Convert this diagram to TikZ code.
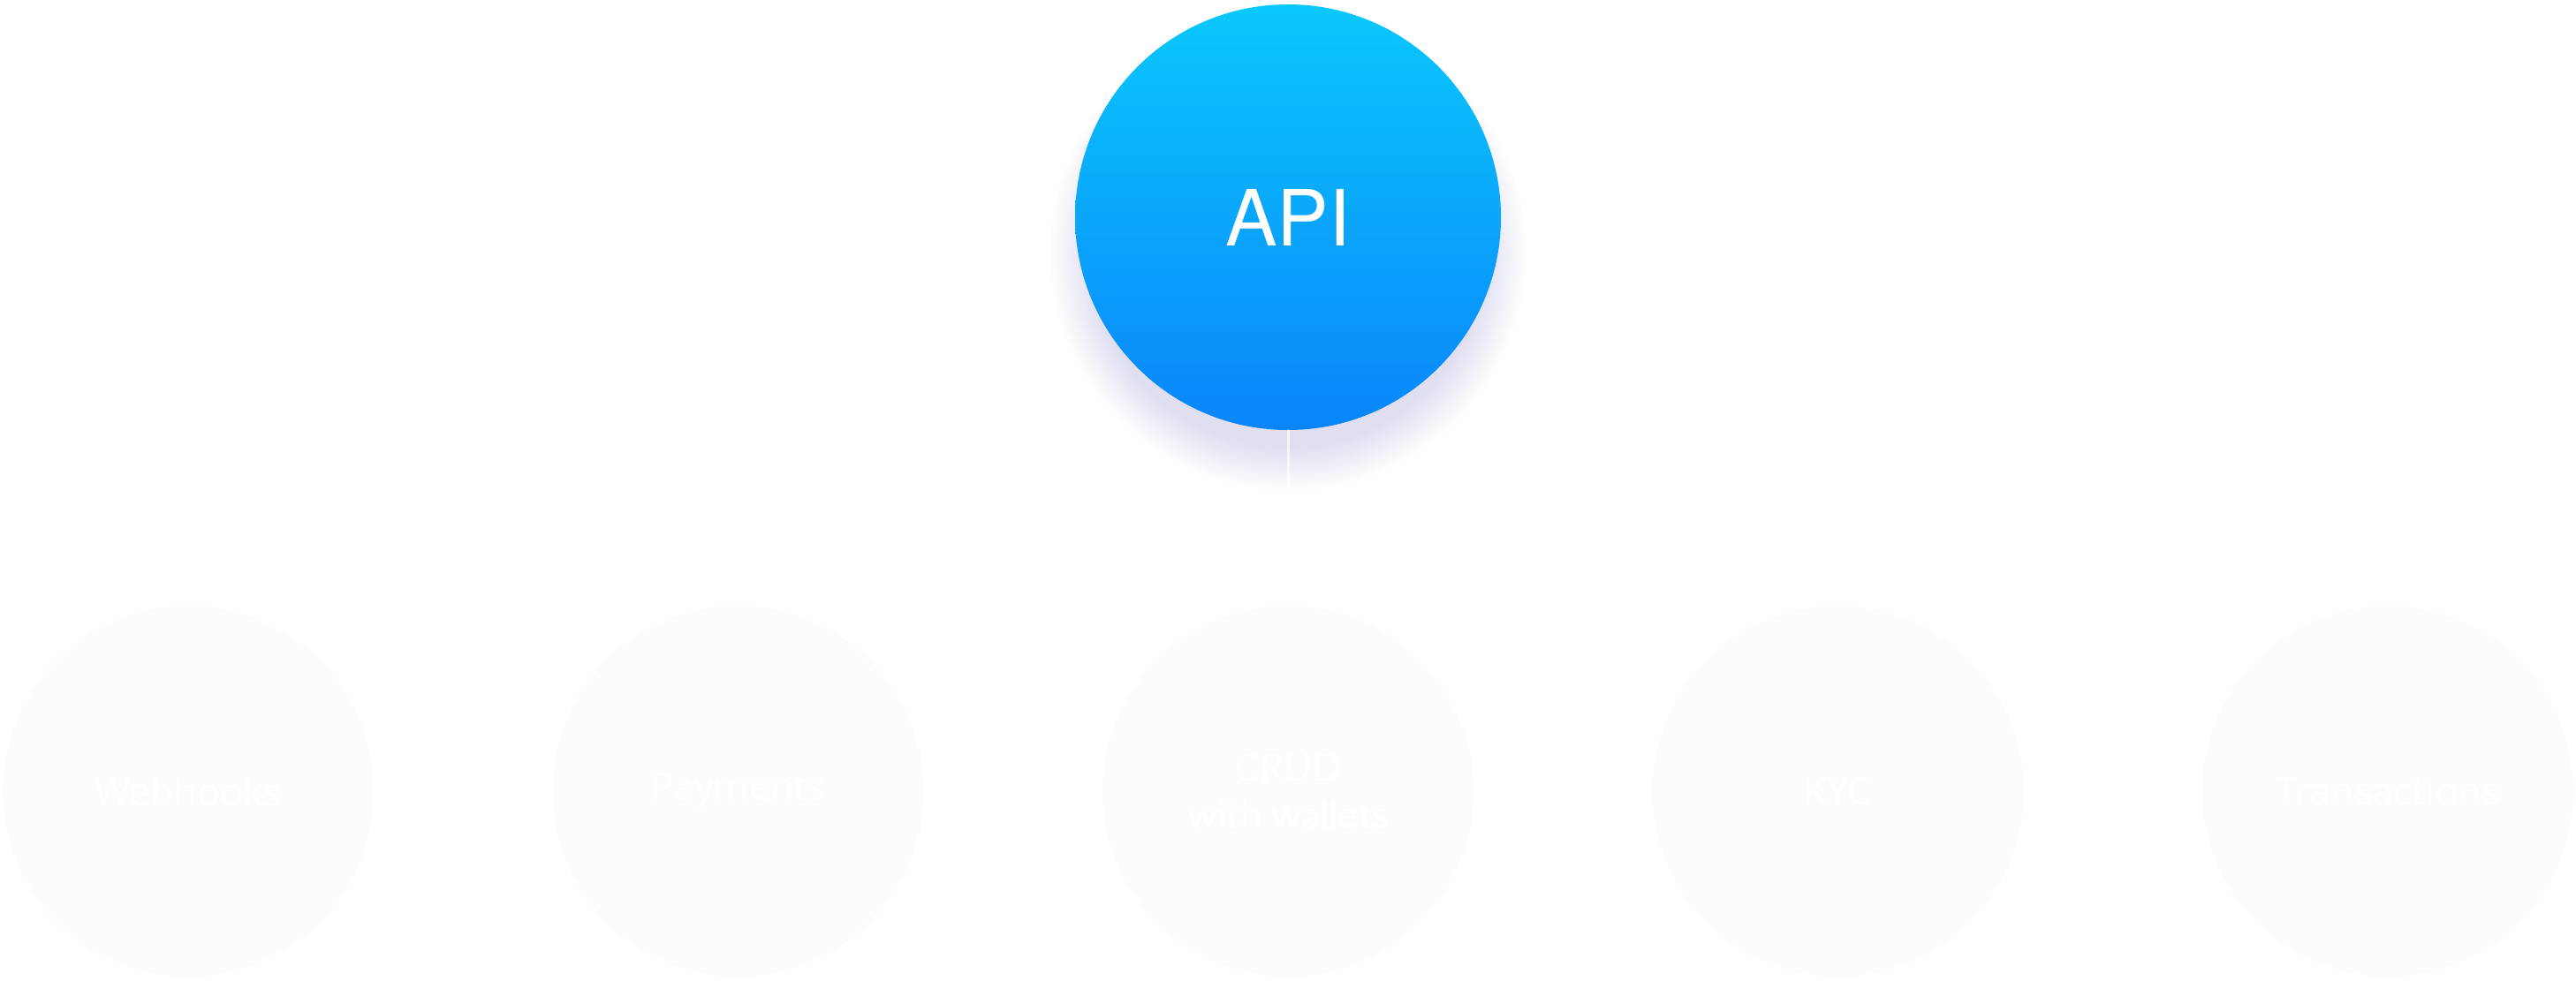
\documentclass[tikz,border=0pt]{standalone}
\usepackage{fontspec}
\setmainfont{Open Sans}
\newfontfamily\apifont{TeX Gyre Heros}
\newfontfamily\crudfont{Lato}
\definecolor{apitop}{HTML}{0AC8FC}
\definecolor{apibottom}{HTML}{0A85FA}
\definecolor{shadowcol}{HTML}{5A5AB4}
\definecolor{modfill}{HTML}{FCFCFC}
\tikzset{
	apinode/.style={circle,minimum size=4.82cm,inner sep=0pt,top color=apitop,bottom color=apibottom,text=white,font=\apifont\fontsize{25}{30}\selectfont},
	modnode/.style={circle,minimum size=4.2cm,inner sep=0pt,fill=modfill,text=white,align=center,font=\fontsize{12.3}{15.4}\selectfont},
}
\begin{document}
\begin{tikzpicture}[line cap=round]
				\useasboundingbox (0,0) rectangle (29.16,11.10);
				\foreach \i in {0,...,24}
				\fill[shadowcol,opacity=0.009] (14.58,8.24) circle ({2.22+0.02*\i});
				\path
				(14.58,8.64) node[apinode] (api) {\raisebox{-0.04cm}{API}}
				(2.13,2.14) node[modnode] (webhooks) {Webhooks}
				(8.355,2.14) node[modnode] (payments) {Payments}
				(14.58,2.14) node[modnode,font=\crudfont\fontsize{12.3}{15.4}\selectfont] (crud) {CRUD\\with wallets}
				(20.805,2.14) node[modnode] (kyc) {KYC}
				(27.03,2.14) node[modnode] (transactions) {Transactions}
				;
				\draw[white,opacity=0.7,line width=0.85pt] (api.south) -- (crud.north);
			\end{tikzpicture}
\end{document}
